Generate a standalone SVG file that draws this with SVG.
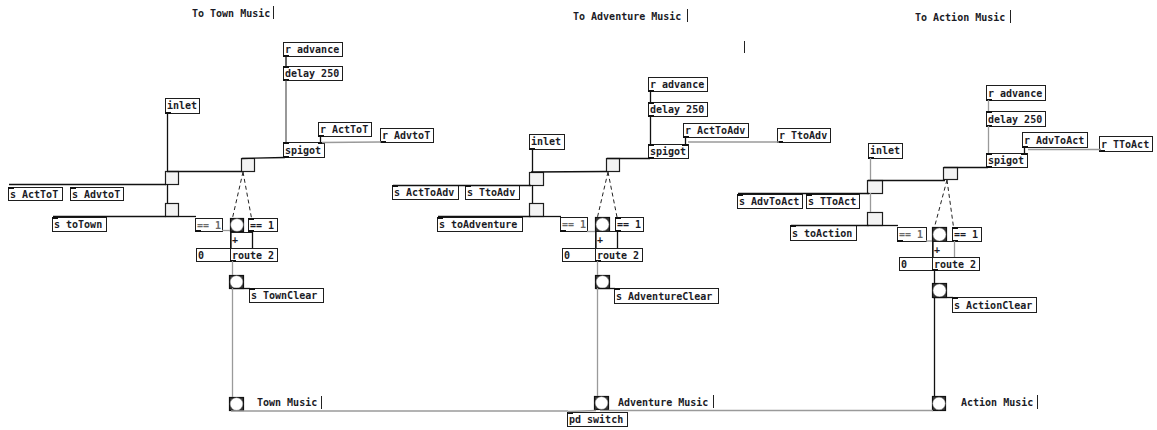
<svg xmlns="http://www.w3.org/2000/svg" xmlns:xlink="http://www.w3.org/1999/xlink" width="1157" height="430" viewBox="0 0 1157 430">
  <style>
    text { font-family: "DejaVu Sans Mono", "Liberation Mono", monospace; font-size: 10px; font-weight: bold; fill: #1b1b26; }
    .obj rect.b { fill: #fff; stroke: #1e1e1e; stroke-width: 1; }
    .dim text { fill: #6a6a6a; }
    .tgl rect { fill: #f3f3f3; stroke: #1e1e1e; stroke-width: 1.2; }
    .bng rect { fill: #3a3a3a; stroke: #111; stroke-width: 1.2; }
    .bng circle { fill: #fff; stroke: #888; stroke-width: 0.5; }
    .io { fill: #111; }
    .cur { stroke: #222; stroke-width: 1; }
    #connectors line { stroke: #111; stroke-width: 1.3; fill: none; }
    #connectors line.g { stroke: #9a9a9a; stroke-width: 1.3; }
    #connectors line.m { stroke: #444; stroke-width: 1.1; }
    #connectors line.d { stroke: #222; stroke-width: 1; stroke-dasharray: 4 3; }
  </style>
  <defs>
    <rect id="io" class="io" width="6" height="2"/>
  </defs>
  <rect width="1157" height="430" fill="#fff"/>

  <!-- ================= comments ================= -->
  <g id="comments">
    <text x="192" y="17">To Town Music</text>
    <line class="cur" x1="273.5" y1="6" x2="273.5" y2="19"/>
    <text x="573" y="20">To Adventure Music</text>
    <line class="cur" x1="687.5" y1="9" x2="687.5" y2="22"/>
    <line class="cur" x1="744.5" y1="41" x2="744.5" y2="53"/>
    <text x="915" y="21">To Action Music</text>
    <line class="cur" x1="1010.5" y1="10" x2="1010.5" y2="23"/>
    <text x="257" y="406">Town Music</text>
    <line class="cur" x1="321.5" y1="396" x2="321.5" y2="409"/>
    <text x="618" y="406">Adventure Music</text>
    <line class="cur" x1="713.5" y1="395" x2="713.5" y2="408"/>
    <text x="961" y="406">Action Music</text>
    <line class="cur" x1="1037.5" y1="395" x2="1037.5" y2="409"/>
  </g>

  <!-- ================= Town section ================= -->
  <g id="town-r-advance" class="obj" transform="translate(283,42)"><rect class="b" x="0.5" y="0.5" width="59" height="14"/><text x="2" y="11">r advance</text><use href="#io" x="0" y="13"/></g>
  <g id="town-delay" class="obj" transform="translate(283,66)"><rect class="b" x="0.5" y="0.5" width="59" height="14"/><text x="2" y="11">delay 250</text><use href="#io" x="0" y="0"/><use href="#io" x="0" y="13"/></g>
  <g id="town-inlet" class="obj" transform="translate(165,98)"><rect class="b" x="0.5" y="0.5" width="34" height="15"/><text x="2" y="11">inlet</text><use href="#io" x="0" y="14"/></g>
  <g id="town-r-acttot" class="obj" transform="translate(318,122)"><rect class="b" x="0.5" y="0.5" width="53" height="14"/><text x="2" y="11">r ActToT</text><use href="#io" x="0" y="13"/></g>
  <g id="town-r-advtot" class="obj" transform="translate(380,128)"><rect class="b" x="0.5" y="0.5" width="53" height="14"/><text x="2" y="11">r AdvtoT</text><use href="#io" x="0" y="13"/></g>
  <g id="town-spigot" class="obj" transform="translate(283,142)"><rect class="b" x="0.5" y="0.5" width="41" height="15"/><text x="2" y="12">spigot</text><use href="#io" x="0" y="0"/><use href="#io" x="35" y="0"/><use href="#io" x="0" y="14"/></g>
  <g id="town-tgl-gate" class="tgl" transform="translate(241,158)"><rect x="0.5" y="0.5" width="13" height="13"/></g>
  <g id="town-tgl-a" class="tgl" transform="translate(165,171)"><rect x="0.5" y="0.5" width="13" height="13"/></g>
  <g id="town-tgl-b" class="tgl" transform="translate(165,203)"><rect x="0.5" y="0.5" width="13" height="13"/></g>
  <g id="town-s-acttot" class="obj" transform="translate(8,187)"><rect class="b" x="0.5" y="0.5" width="54" height="13"/><text x="2" y="10.5">s ActToT</text><use href="#io" x="0" y="0"/></g>
  <g id="town-s-advtot" class="obj" transform="translate(70,187)"><rect class="b" x="0.5" y="0.5" width="53" height="13"/><text x="2" y="10.5">s AdvtoT</text><use href="#io" x="0" y="0"/></g>
  <g id="town-s-totown" class="obj" transform="translate(52,217)"><rect class="b" x="0.5" y="0.5" width="54" height="14"/><text x="2" y="11">s toTown</text><use href="#io" x="0" y="0"/></g>
  <g id="town-eq-l" class="obj dim" transform="translate(195,218)"><rect class="b" x="0.5" y="0.5" width="27" height="13"/><text x="2" y="10.5">== 1</text><use href="#io" x="0" y="12"/></g>
  <g id="town-bng-a" class="bng" transform="translate(230,218)"><rect x="0.5" y="0.5" width="13" height="13"/><circle cx="7" cy="7" r="6.3"/></g>
  <g id="town-eq-r" class="obj" transform="translate(248,218)"><rect class="b" x="0.5" y="0.5" width="29" height="13"/><text x="2" y="10.5">== 1</text><use href="#io" x="0" y="0"/><use href="#io" x="0" y="12"/></g>
  <g id="town-plus" class="obj" transform="translate(230,232)"><rect class="b" x="0.5" y="0.5" width="22" height="16" fill="none"/><text x="2" y="11">+</text></g>
  <g id="town-msg0" class="obj" transform="translate(196,248)"><rect class="b" x="0.5" y="0.5" width="34" height="13"/><text x="2" y="10.5">0</text></g>
  <g id="town-route" class="obj" transform="translate(230,248)"><rect class="b" x="0.5" y="0.5" width="47" height="13"/><text x="2" y="10.5">route 2</text><use href="#io" x="0" y="12"/></g>
  <g id="town-bng-b" class="bng" transform="translate(229,275)"><rect x="0.5" y="0.5" width="14" height="13"/><circle cx="7.5" cy="7" r="6.3"/></g>
  <g id="town-s-clear" class="obj" transform="translate(249,288)"><rect class="b" x="0.5" y="0.5" width="74" height="14"/><text x="2" y="11">s TownClear</text><use href="#io" x="0" y="0"/></g>
  <g id="town-bng-out" class="bng" transform="translate(229,397)"><rect x="0.5" y="0.5" width="14" height="13"/><circle cx="7.5" cy="7" r="6.3"/></g>

  <!-- ================= Adventure section ================= -->
  <g id="adv-r-advance" class="obj" transform="translate(648,77)"><rect class="b" x="0.5" y="0.5" width="59" height="14"/><text x="2" y="11">r advance</text><use href="#io" x="0" y="13"/></g>
  <g id="adv-delay" class="obj" transform="translate(648,102)"><rect class="b" x="0.5" y="0.5" width="59" height="14"/><text x="2" y="11">delay 250</text><use href="#io" x="0" y="0"/><use href="#io" x="0" y="13"/></g>
  <g id="adv-r-acttoadv" class="obj" transform="translate(683,123)"><rect class="b" x="0.5" y="0.5" width="65" height="14"/><text x="2" y="11">r ActToAdv</text><use href="#io" x="0" y="13"/></g>
  <g id="adv-r-ttoadv" class="obj" transform="translate(777,128)"><rect class="b" x="0.5" y="0.5" width="53" height="14"/><text x="2" y="11">r TtoAdv</text><use href="#io" x="0" y="13"/></g>
  <g id="adv-spigot" class="obj" transform="translate(648,144)"><rect class="b" x="0.5" y="0.5" width="40" height="14"/><text x="2" y="11">spigot</text><use href="#io" x="0" y="0"/><use href="#io" x="34" y="0"/><use href="#io" x="0" y="13"/></g>
  <g id="adv-inlet" class="obj" transform="translate(529,134)"><rect class="b" x="0.5" y="0.5" width="35" height="15"/><text x="2" y="11">inlet</text><use href="#io" x="0" y="14"/></g>
  <g id="adv-tgl-gate" class="tgl" transform="translate(606,158)"><rect x="0.5" y="0.5" width="13" height="13"/></g>
  <g id="adv-tgl-a" class="tgl" transform="translate(529,172)"><rect x="0.5" y="0.5" width="14" height="13"/></g>
  <g id="adv-tgl-b" class="tgl" transform="translate(529,203)"><rect x="0.5" y="0.5" width="14" height="13"/></g>
  <g id="adv-s-acttoadv" class="obj" transform="translate(392,185)"><rect class="b" x="0.5" y="0.5" width="66" height="14"/><text x="2" y="11">s ActToAdv</text><use href="#io" x="0" y="0"/></g>
  <g id="adv-s-ttoadv" class="obj" transform="translate(465,185)"><rect class="b" x="0.5" y="0.5" width="54" height="14"/><text x="2" y="11">s TtoAdv</text><use href="#io" x="0" y="0"/></g>
  <g id="adv-s-toadventure" class="obj" transform="translate(437,217)"><rect class="b" x="0.5" y="0.5" width="85" height="14"/><text x="2" y="11">s toAdventure</text><use href="#io" x="0" y="0"/></g>
  <g id="adv-eq-l" class="obj dim" transform="translate(560,217)"><rect class="b" x="0.5" y="0.5" width="27" height="14"/><text x="2" y="11">== 1</text><use href="#io" x="0" y="13"/></g>
  <g id="adv-bng-a" class="bng" transform="translate(595,217)"><rect x="0.5" y="0.5" width="14" height="14"/><circle cx="7.5" cy="7.5" r="6.5"/></g>
  <g id="adv-eq-r" class="obj" transform="translate(615,217)"><rect class="b" x="0.5" y="0.5" width="28" height="14"/><text x="2" y="11">== 1</text><use href="#io" x="0" y="0"/><use href="#io" x="0" y="13"/></g>
  <g id="adv-plus" class="obj" transform="translate(595,231)"><rect class="b" x="0.5" y="0.5" width="22" height="17" fill="none"/><text x="2" y="12">+</text></g>
  <g id="adv-msg0" class="obj" transform="translate(562,248)"><rect class="b" x="0.5" y="0.5" width="33" height="13"/><text x="2" y="10.5">0</text></g>
  <g id="adv-route" class="obj" transform="translate(595,248)"><rect class="b" x="0.5" y="0.5" width="47" height="13"/><text x="2" y="10.5">route 2</text><use href="#io" x="0" y="12"/></g>
  <g id="adv-bng-b" class="bng" transform="translate(595,275)"><rect x="0.5" y="0.5" width="14" height="13"/><circle cx="7.5" cy="7" r="6.3"/></g>
  <g id="adv-s-clear" class="obj" transform="translate(614,288)"><rect class="b" x="0.5" y="0.5" width="104" height="15"/><text x="2" y="11.5">s AdventureClear</text><use href="#io" x="0" y="0"/></g>
  <g id="adv-bng-out" class="bng" transform="translate(594,396)"><rect x="0.5" y="0.5" width="14" height="13"/><circle cx="7.5" cy="7" r="6.3"/></g>

  <!-- ================= Action section ================= -->
  <g id="act-r-advance" class="obj" transform="translate(986,85)"><rect class="b" x="0.5" y="0.5" width="59" height="15"/><text x="2" y="11.5">r advance</text><use href="#io" x="0" y="14"/></g>
  <g id="act-delay" class="obj" transform="translate(986,111)"><rect class="b" x="0.5" y="0.5" width="59" height="15"/><text x="2" y="11.5">delay 250</text><use href="#io" x="0" y="0"/><use href="#io" x="0" y="14"/></g>
  <g id="act-r-advtoact" class="obj" transform="translate(1022,132)"><rect class="b" x="0.5" y="0.5" width="65" height="15"/><text x="2" y="11.5">r AdvToAct</text><use href="#io" x="0" y="14"/></g>
  <g id="act-r-ttoact" class="obj" transform="translate(1099,136)"><rect class="b" x="0.5" y="0.5" width="53" height="15"/><text x="2" y="11.5">r TToAct</text><use href="#io" x="0" y="14"/></g>
  <g id="act-spigot" class="obj" transform="translate(986,153)"><rect class="b" x="0.5" y="0.5" width="41" height="14"/><text x="2" y="11">spigot</text><use href="#io" x="0" y="0"/><use href="#io" x="35" y="0"/><use href="#io" x="0" y="13"/></g>
  <g id="act-inlet" class="obj" transform="translate(868,143)"><rect class="b" x="0.5" y="0.5" width="34" height="15"/><text x="2" y="11">inlet</text><use href="#io" x="0" y="14"/></g>
  <g id="act-tgl-gate" class="tgl" transform="translate(943,167)"><rect x="0.5" y="0.5" width="14" height="12"/></g>
  <g id="act-tgl-a" class="tgl" transform="translate(867,180)"><rect x="0.5" y="0.5" width="15" height="13"/></g>
  <g id="act-tgl-b" class="tgl" transform="translate(867,212)"><rect x="0.5" y="0.5" width="15" height="13"/></g>
  <g id="act-s-advtoact" class="obj" transform="translate(737,194)"><rect class="b" x="0.5" y="0.5" width="65" height="14"/><text x="2" y="11">s AdvToAct</text><use href="#io" x="0" y="0"/></g>
  <g id="act-s-ttoact" class="obj" transform="translate(806,194)"><rect class="b" x="0.5" y="0.5" width="53" height="14"/><text x="2" y="11">s TToAct</text><use href="#io" x="0" y="0"/></g>
  <g id="act-s-toaction" class="obj" transform="translate(790,225)"><rect class="b" x="0.5" y="0.5" width="66" height="15"/><text x="2" y="11.5">s toAction</text><use href="#io" x="0" y="0"/></g>
  <g id="act-eq-l" class="obj dim" transform="translate(897,227)"><rect class="b" x="0.5" y="0.5" width="29" height="14"/><text x="2" y="11">== 1</text><use href="#io" x="0" y="13"/></g>
  <g id="act-bng-a" class="bng" transform="translate(932,227)"><rect x="0.5" y="0.5" width="14" height="14"/><circle cx="7.5" cy="7.5" r="6.5"/></g>
  <g id="act-eq-r" class="obj" transform="translate(952,227)"><rect class="b" x="0.5" y="0.5" width="29" height="14"/><text x="2" y="11">== 1</text><use href="#io" x="0" y="0"/><use href="#io" x="0" y="13"/></g>
  <g id="act-plus" class="obj" transform="translate(932,241)"><rect class="b" x="0.5" y="0.5" width="22" height="16" fill="none"/><text x="2" y="12">+</text></g>
  <g id="act-msg0" class="obj" transform="translate(899,257)"><rect class="b" x="0.5" y="0.5" width="33" height="13"/><text x="2" y="10.5">0</text></g>
  <g id="act-route" class="obj" transform="translate(932,257)"><rect class="b" x="0.5" y="0.5" width="47" height="13"/><text x="2" y="10.5">route 2</text><use href="#io" x="0" y="12"/></g>
  <g id="act-bng-b" class="bng" transform="translate(932,283)"><rect x="0.5" y="0.5" width="14" height="14"/><circle cx="7.5" cy="7.5" r="6.5"/></g>
  <g id="act-s-clear" class="obj" transform="translate(952,297)"><rect class="b" x="0.5" y="0.5" width="84" height="15"/><text x="2" y="11.5">s ActionClear</text><use href="#io" x="0" y="0"/></g>
  <g id="act-bng-out" class="bng" transform="translate(932,396)"><rect x="0.5" y="0.5" width="13" height="14"/><circle cx="7" cy="7.5" r="6.3"/></g>

  <!-- ================= shared output ================= -->
  <g id="pd-switch" class="obj" transform="translate(567,412)"><rect class="b" x="0.5" y="0.5" width="60" height="14"/><text x="2" y="11">pd switch</text><use href="#io" x="0" y="0"/></g>

  <!-- ================= patch cords ================= -->
  <g id="connectors">
    <!-- Town -->
    <line x1="286" y1="56" x2="286" y2="66"/>
    <line class="m" x1="286" y1="80" x2="286" y2="142"/>
    <line x1="320.5" y1="136" x2="320.5" y2="142"/>
    <line class="g" x1="381" y1="142" x2="322" y2="142.5"/>
    <line x1="285" y1="157.5" x2="242" y2="158.5"/>
    <line x1="167.5" y1="113" x2="167.5" y2="171"/>
    <line x1="242" y1="171.5" x2="167" y2="171.5"/>
    <line x1="166" y1="184.5" x2="9" y2="184.5"/>
    <line x1="167.5" y1="184" x2="167.5" y2="203"/>
    <line x1="166" y1="216.5" x2="53" y2="216.5"/>
    <line x1="166" y1="216.5" x2="196" y2="216.5"/>
    <line class="d" x1="243" y1="172" x2="232.5" y2="218"/>
    <line class="d" x1="243" y1="172" x2="251.5" y2="218"/>
    <line x1="231" y1="231" x2="231" y2="248"/>
    <line x1="252.5" y1="231" x2="252.5" y2="248"/>
    <line class="g" x1="222" y1="230.5" x2="230" y2="230.5"/>
    <line class="g" x1="232.5" y1="261" x2="232.5" y2="275"/>
    <line x1="231" y1="288.5" x2="250" y2="288.5"/>
    <line class="g" x1="232.5" y1="288" x2="232.5" y2="397"/>
    <line class="g" x1="231" y1="411" x2="568" y2="411"/>
    <!-- Adventure -->
    <line x1="650.5" y1="91" x2="650.5" y2="102"/>
    <line x1="650.5" y1="116" x2="650.5" y2="144"/>
    <line x1="685.5" y1="137" x2="685.5" y2="144"/>
    <line class="g" x1="779" y1="142" x2="688" y2="142"/>
    <line x1="650" y1="158.5" x2="607" y2="158.5"/>
    <line x1="532.5" y1="149" x2="532.5" y2="172"/>
    <line x1="607" y1="171.5" x2="531" y2="172"/>
    <line x1="531" y1="185.5" x2="393" y2="185.5"/>
    <line x1="532.5" y1="185" x2="532.5" y2="203"/>
    <line x1="531" y1="216.5" x2="438" y2="216.5"/>
    <line x1="531" y1="216.5" x2="561" y2="216.5"/>
    <line class="d" x1="608" y1="172" x2="597.5" y2="217"/>
    <line class="d" x1="608" y1="172" x2="617" y2="217"/>
    <line x1="596" y1="231" x2="596" y2="248"/>
    <line x1="617.5" y1="231" x2="617.5" y2="248"/>
    <line class="g" x1="587" y1="231.5" x2="595" y2="231.5"/>
    <line class="g" x1="597.5" y1="261" x2="597.5" y2="275"/>
    <line x1="596" y1="288.5" x2="615" y2="288.5"/>
    <line class="g" x1="597.5" y1="288" x2="597.5" y2="396"/>
    <line class="g" x1="596" y1="410.5" x2="568" y2="411.5"/>
    <!-- Action -->
    <line class="g" x1="988.5" y1="100" x2="988.5" y2="111"/>
    <line class="g" x1="988.5" y1="126" x2="988.5" y2="153"/>
    <line x1="1024.5" y1="147" x2="1024.5" y2="153"/>
    <line class="g" x1="1101" y1="149.5" x2="1028" y2="149.5"/>
    <line x1="988" y1="167.5" x2="944" y2="167.5"/>
    <line class="g" x1="870.5" y1="158" x2="870.5" y2="180"/>
    <line x1="945" y1="180.5" x2="868" y2="180.5"/>
    <line x1="869" y1="193.5" x2="738" y2="193.5"/>
    <line class="g" x1="870.5" y1="193" x2="870.5" y2="212"/>
    <line x1="869" y1="225.5" x2="791" y2="225.5"/>
    <line x1="869" y1="225.5" x2="898" y2="225.5"/>
    <line class="d" x1="947" y1="180" x2="934.5" y2="227"/>
    <line class="d" x1="947" y1="180" x2="953.5" y2="227"/>
    <line x1="933" y1="241" x2="933" y2="257"/>
    <line class="g" x1="954.5" y1="241" x2="954.5" y2="257"/>
    <line class="g" x1="926" y1="241" x2="932" y2="241"/>
    <line x1="934.5" y1="270" x2="934.5" y2="283"/>
    <line x1="933" y1="297.5" x2="953" y2="297.5"/>
    <line x1="934.5" y1="297" x2="934.5" y2="396"/>
    <line class="g" x1="933" y1="410.5" x2="600" y2="410.5"/>
  </g>
</svg>
